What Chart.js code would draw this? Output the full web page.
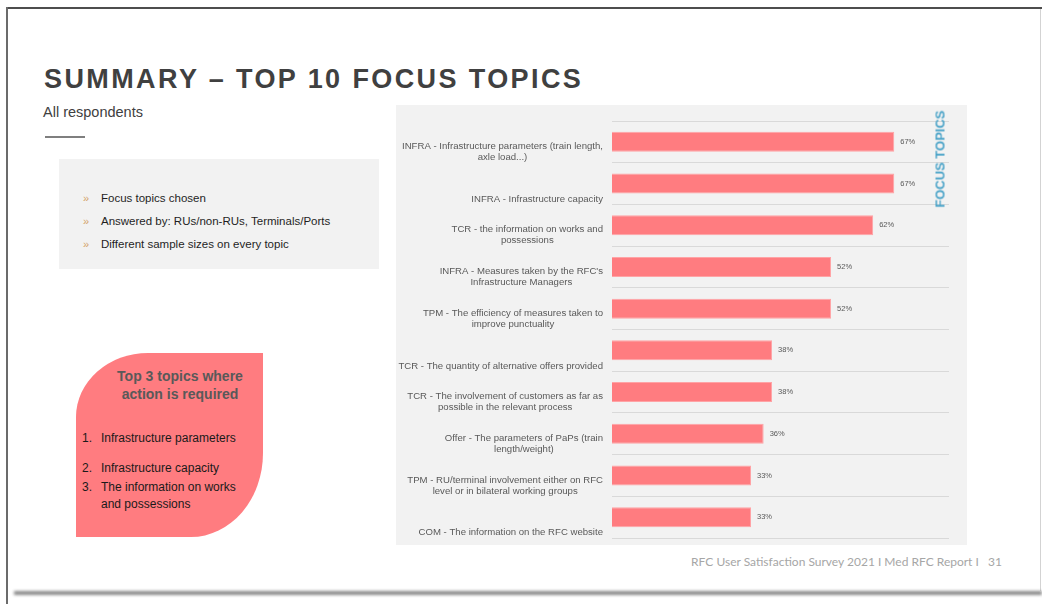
<!DOCTYPE html>
<html><head><meta charset="utf-8">
<script src="https://cdn.jsdelivr.net/npm/chart.js@4.4.1/dist/chart.umd.min.js"></script>
<style>
html,body{margin:0;padding:0;background:#fff;width:1042px;height:604px;overflow:hidden;font-family:"Liberation Sans",Arial,sans-serif;}
.abs{position:absolute;white-space:nowrap;}
</style></head><body>
<!-- slide frame -->
<div class="abs" style="left:7px;top:7px;width:1035px;height:2px;background:#4d4d4d"></div>
<div class="abs" style="left:6px;top:7px;width:2px;height:597px;background:#6b6b6b"></div>
<div class="abs" style="left:1040px;top:9px;width:1px;height:582px;background:#d3d3d3"></div>
<div class="abs" style="left:14px;top:591px;width:1028px;height:4px;background:#8a8a8a;filter:blur(1.5px)"></div>

<div class="abs" style="left:44px;top:64px;font-size:27px;font-weight:bold;letter-spacing:2.4px;color:#404040;">SUMMARY – TOP 10 FOCUS TOPICS</div>
<div class="abs" style="left:43px;top:104px;font-size:14.5px;color:#404040;">All respondents</div>
<div class="abs" style="left:45px;top:136px;width:40px;height:2px;background:#7f7f7f"></div>

<div class="abs" style="left:59px;top:159px;width:320px;height:110px;background:#f2f2f2"></div>
<div class="abs" style="left:83px;top:187px;font-size:11px;color:#d4a36a;line-height:23px;">»<br>»<br>»</div>
<div class="abs" style="left:101px;top:187px;font-size:11.5px;color:#1f1f1f;line-height:23px;">Focus topics chosen<br>Answered by: RUs/non-RUs, Terminals/Ports<br>Different sample sizes on every topic</div>

<div class="abs" style="left:76px;top:353px;width:187px;height:184px;background:#ff7c80;border-radius:72px 0 72px 0 / 64px 0 84px 0;"></div>
<div class="abs" style="left:100px;top:367px;width:160px;text-align:center;font-size:14px;font-weight:bold;color:#595959;line-height:18px;">Top 3 topics where<br>action is required</div>
<div class="abs" style="left:82px;top:430px;font-size:12px;color:#1a1a1a;line-height:16.5px;">1.</div>
<div class="abs" style="left:101px;top:430px;font-size:12px;color:#1a1a1a;line-height:16.5px;">Infrastructure parameters</div>
<div class="abs" style="left:82px;top:460px;font-size:12px;color:#1a1a1a;line-height:16.5px;">2.</div>
<div class="abs" style="left:101px;top:460px;font-size:12px;color:#1a1a1a;line-height:16.5px;">Infrastructure capacity</div>
<div class="abs" style="left:82px;top:479px;font-size:12px;color:#1a1a1a;line-height:16.5px;">3.</div>
<div class="abs" style="left:101px;top:479px;font-size:12px;color:#1a1a1a;line-height:16.5px;">The information on works<br>and possessions</div>

<div class="abs" style="left:396px;top:105px;width:571px;height:440px;background:#f2f2f2;">
  <canvas id="c"></canvas>
</div>
<div class="abs" style="left:940px;top:159px;transform:translate(-50%,-50%) rotate(-90deg);font-size:13px;font-weight:bold;color:#4aa3c8;">FOCUS TOPICS</div>

<div class="abs" style="right:40px;top:554px;font-family:Lato,'Open Sans',sans-serif;font-size:12px;color:#a6a6a6;">RFC User Satisfaction Survey 2021 I Med RFC Report I &nbsp; 31</div>

<script>
const categories = [
  ["INFRA - Infrastructure parameters (train length,", "axle load...)"],
  ["INFRA - Infrastructure capacity"],
  ["TCR - the information on works and", "possessions"],
  ["INFRA - Measures taken by the RFC's", "Infrastructure Managers"],
  ["TPM - The efficiency of measures taken to", "improve punctuality"],
  ["TCR - The quantity of alternative offers provided"],
  ["TCR - The involvement of customers as far as", "possible in the relevant process"],
  ["Offer - The parameters of PaPs (train", "length/weight)"],
  ["TPM - RU/terminal involvement either on RFC", "level or in bilateral working groups"],
  ["COM - The information on the RFC website"]
];
const values = [67, 67, 62, 52, 52, 38, 38, 36, 33, 33];
const axisMax = 80;

const yLabelPlugin = {
  id: 'yLabels',
  afterDraw(chart) {
    const ctx = chart.ctx, y = chart.scales.y;
    ctx.save();
    ctx.font = '9.6px "Liberation Sans", Arial, sans-serif';
    ctx.fillStyle = '#595959';
    ctx.textAlign = 'center';
    ctx.textBaseline = 'middle';
    const rightEdge = chart.chartArea.left - 9;
    categories.forEach((lines, i) => {
      const c = y.getPixelForValue(i);
      const w = Math.max(...lines.map(l => ctx.measureText(l).width));
      const cx = rightEdge - w / 2;
      const n = lines.length;
      lines.forEach((l, j) => {
        ctx.fillText(l, cx, c + 15.5 - (n - 1 - j) * 11);
      });
    });
    ctx.restore();
  }
};
const valueLabelPlugin = {
  id: 'valueLabels',
  afterDatasetsDraw(chart) {
    const ctx = chart.ctx;
    const meta = chart.getDatasetMeta(0);
    ctx.save();
    ctx.font = '7.5px "Liberation Sans", Arial, sans-serif';
    ctx.fillStyle = '#595959';
    ctx.textAlign = 'left';
    ctx.textBaseline = 'middle';
    meta.data.forEach((bar, i) => {
      ctx.fillText(values[i] + '%', bar.x + 6, bar.y);
    });
    ctx.restore();
  }
};

new Chart(document.getElementById('c'), {
  type: 'bar',
  data: {
    labels: categories.map(l => l.join(' ')),
    datasets: [{
      data: values,
      backgroundColor: '#ff7c80',
      borderColor: '#ffa3a5',
      borderWidth: 1,
      categoryPercentage: 1,
      barPercentage: 0.48
    }]
  },
  options: {
    indexAxis: 'y',
    responsive: true,
    maintainAspectRatio: false,
    animation: false,
    layout: { padding: { top: 16, right: 18, bottom: 7, left: 0 } },
    plugins: { legend: { display: false }, tooltip: { enabled: false } },
    scales: {
      x: { display: false, min: 0, max: axisMax },
      y: {
        ticks: { display: false },
        grid: { color: '#d9d9d9', lineWidth: 1, drawTicks: false },
        border: { display: false },
        afterFit(s) { s.width = 216; }
      }
    }
  },
  plugins: [yLabelPlugin, valueLabelPlugin]
});
</script>
</body></html>
